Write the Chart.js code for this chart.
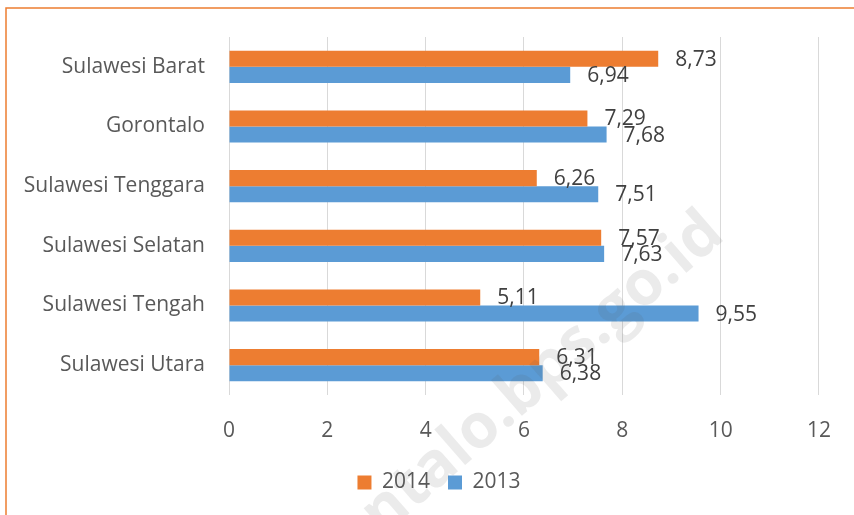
<!DOCTYPE html>
<html>
<head>
<meta charset="utf-8">
<script src="https://cdn.jsdelivr.net/npm/chart.js"></script>
<style>
  html, body { margin: 0; padding: 0; background: #fff; }
  #wrap { position: relative; width: 854px; height: 515px; }
</style>
</head>
<body>
<div id="wrap"><canvas id="myChart" width="854" height="515"></canvas></div>
<script>
const provinces = ['Sulawesi Barat', 'Gorontalo', 'Sulawesi Tenggara', 'Sulawesi Selatan', 'Sulawesi Tengah', 'Sulawesi Utara'];
const values2014 = [8.73, 7.29, 6.26, 7.57, 5.11, 6.31];
const values2013 = [6.94, 7.68, 7.51, 7.63, 9.55, 6.38];
const xTicks = [0, 2, 4, 6, 8, 10, 12];

const FONT = '"Open Sans", "DejaVu Sans", sans-serif';
const textGray = '#595959';

// frame + watermark
const backdrop = {
    id: 'backdrop',
    afterLayout(chart) {
        // legend sits centred under the plot, not the whole canvas
        chart.legend.left += 29;
        chart.legend.right += 29;
    },
    beforeDraw(chart) {
        const c = chart.ctx;
        c.save();
        c.fillStyle = '#fff';
        c.fillRect(0, 0, chart.width, chart.height);
        c.strokeStyle = '#ED7D31';
        c.lineWidth = 1.5;
        c.beginPath();
        c.moveTo(6, chart.height);
        c.lineTo(6, 8);
        c.lineTo(chart.width, 8);
        c.stroke();
        c.restore();
    },
    afterDraw(chart) {
        const c = chart.ctx;
        c.save();
        c.translate(490, 420);
        c.rotate(-41 * Math.PI / 180);
        c.font = 'bold 62px ' + FONT;
        c.fillStyle = 'rgba(90,90,90,0.12)';
        c.textAlign = 'center';
        c.textBaseline = 'middle';
        c.fillText('gorontalo.bps.go.id', 0, 0);
        c.restore();
    }
};

// value labels just past the bar ends
const barLabels = {
    id: 'barLabels',
    afterDatasetsDraw(chart) {
        const c = chart.ctx;
        c.save();
        c.font = '21px ' + FONT;
        c.fillStyle = '#404040';
        c.textAlign = 'left';
        c.textBaseline = 'middle';
        chart.data.datasets.forEach((ds, i) => {
            chart.getDatasetMeta(i).data.forEach((bar, j) => {
                const txt = ds.data[j].toFixed(2).replace('.', ',');
                c.fillText(txt, bar.x + 17, bar.y + 1);
            });
        });
        c.restore();
    }
};

new Chart(document.getElementById('myChart'), {
    type: 'bar',
    data: {
        labels: provinces,
        datasets: [
            { label: '2014', data: values2014, backgroundColor: '#ED7D31', categoryPercentage: 0.54, barPercentage: 1 },
            { label: '2013', data: values2013, backgroundColor: '#5B9BD5', categoryPercentage: 0.54, barPercentage: 1 }
        ]
    },
    options: {
        indexAxis: 'y',
        responsive: false,
        animation: false,
        layout: { padding: { top: 37, right: 34, left: 0, bottom: 12 } },
        scales: {
            x: {
                min: 0,
                max: 12,
                afterBuildTicks(axis) { axis.ticks = xTicks.map(v => ({ value: v })); },
                grid: { color: '#d9d9d9', lineWidth: 1, drawTicks: false },
                border: { display: false },
                ticks: { color: textGray, font: { family: FONT, size: 21 }, padding: 23 },
                afterFit(axis) { axis.height = 59; }
            },
            y: {
                grid: { display: false },
                border: { display: false },
                ticks: { color: textGray, font: { family: FONT, size: 21 }, padding: 16 },
                afterFit(axis) { axis.width = 229; }
            }
        },
        plugins: {
            legend: {
                position: 'bottom',
                labels: {
                    color: textGray,
                    font: { family: FONT, size: 21 },
                    boxWidth: 14,
                    boxHeight: 14,
                    padding: 18
                }
            },
            tooltip: { enabled: false }
        }
    },
    plugins: [backdrop, barLabels]
});
</script>
</body>
</html>
